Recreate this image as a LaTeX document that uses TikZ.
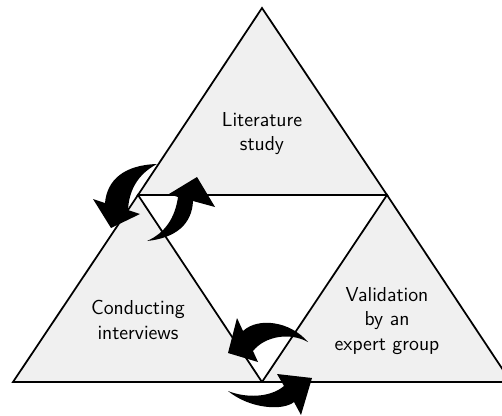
\documentclass[tikz,border=0pt]{standalone}
\begin{document}
\begin{tikzpicture}[x=0.02cm,y=-0.02cm,
    part/.style={draw,fill=black!6,line width=1pt},
    phase/.style={font=\sffamily\fontsize{11.5}{13.7}\selectfont,align=center,inner sep=0pt},
    turn/.style={fill=black}]
  \clip (0,0) rectangle (502,415);
  \coordinate (apex) at (262,8);
  \coordinate (a) at (138,195);
  \coordinate (b) at (387,195);
  \coordinate (l) at (13,382);
  \coordinate (m) at (262,382);
  \coordinate (r) at (511,382);
  % the three parts
  \draw[part] (apex) -- (a) -- (b) -- cycle;
  \draw[part] (a) -- (l) -- (m) -- cycle;
  \draw[part] (b) -- (m) -- (r) -- cycle;
  \node[phase] (lit) at (262,134) {Literature\\study};
  \node[phase] (interviews) at (138,320) {Conducting\\interviews};
  \node[phase] (validation) at (387,321) {Validation\\by an\\expert group};
  % curved arrows
  \fill[turn] (157,164) .. controls (124,165) and (107,180) .. (105,203)
    -- (93,199) -- (111,228) -- (140,214) -- (128,210)
    .. controls (129,190) and (138,174) .. (157,164) -- cycle;
  \fill[turn] (147,241) .. controls (176,238) and (192,224) .. (193,201)
    -- (215,207) -- (197,177) -- (169,194) -- (178,197)
    .. controls (175,218) and (165,233) .. (147,241) -- cycle;
  \fill[turn] (308,342) .. controls (290,321) and (258,317) .. (243,331)
    -- (237,318) -- (228,353) -- (258,362) -- (253,351)
    .. controls (265,336) and (290,332) .. (308,342) -- cycle;
  \fill[turn] (228,391) .. controls (250,409) and (283,411) .. (294,402)
    -- (301,415) -- (312,378) -- (277,374) -- (284,386)
    .. controls (270,398) and (245,398) .. (228,391) -- cycle;
\end{tikzpicture}
\end{document}
